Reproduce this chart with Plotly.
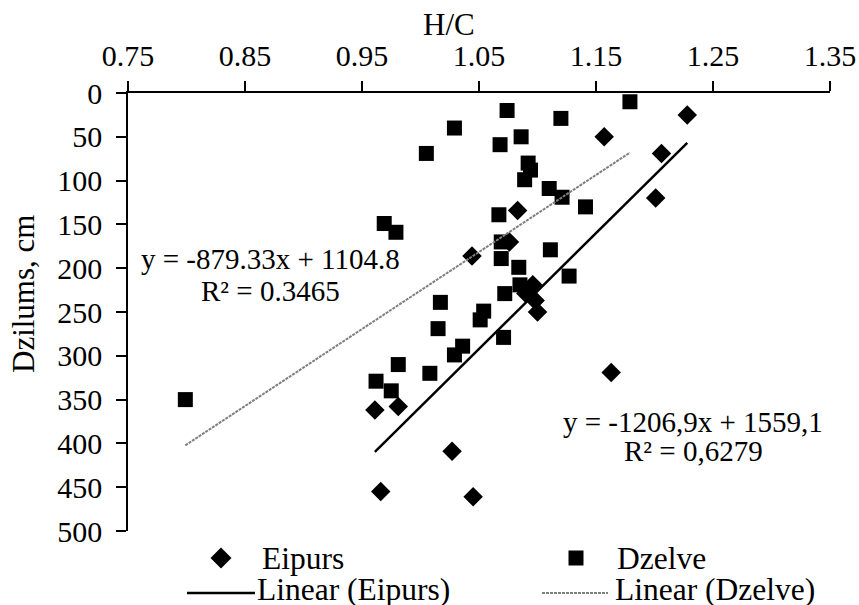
import plotly.graph_objects as go
import numpy as np

# ---- data ----
eipurs_x = [1.228, 1.157, 1.206, 1.201, 1.083, 1.076, 1.044, 1.096, 1.090, 1.098, 1.100,
            0.961, 0.981, 1.027, 0.966, 1.045, 1.163]
eipurs_y = [25, 50, 69, 120, 134, 170, 186, 219, 229, 237, 250,
            362, 358, 409, 455, 461, 319]

dzelve_x = [1.179, 1.074, 1.120, 1.029, 1.086, 1.068, 1.005, 1.092, 1.094, 1.089, 1.110,
            1.121, 1.141, 1.067, 0.969, 0.979, 1.069, 1.111, 1.069, 1.084, 1.127, 1.085,
            1.072, 1.017, 1.054, 1.051, 1.015, 1.071, 1.036, 1.029, 0.981, 1.008, 0.962,
            0.975, 0.799]
dzelve_y = [10, 20, 29, 40, 50, 59, 69, 80, 88, 99, 109,
            119, 130, 139, 149, 159, 170, 179, 189, 199, 209, 219,
            229, 239, 249, 259, 269, 279, 289, 299, 310, 320, 329,
            340, 350]

# trend lines as drawn (slope, intercept)
eipurs_fit = [-1321.6, 1679.8]
dzelve_fit = [-879.33, 1104.8]

eipurs_label = ["y = -1206,9x + 1559,1", "R² = 0,6279"]
dzelve_label = ["y = -879.33x + 1104.8", "R² = 0.3465"]
legend_names = ["Eipurs", "Dzelve", "Linear (Eipurs)", "Linear (Dzelve)"]

x_ticks = [0.75, 0.85, 0.95, 1.05, 1.15, 1.25, 1.35]
y_ticks = [0, 50, 100, 150, 200, 250, 300, 350, 400, 450, 500]

FONT = "Liberation Serif"
FS_TICK, FS_TITLE, FS_LEG, FS_EQ = 30, 31, 31.5, 29
W, H = 859, 605
ML, MR, MT, MB = 128, 29, 93, 74
PW, PH = W - ML - MR, H - MT - MB

def px2x(px):  # figure pixel -> paper x
    return (px - ML) / PW

def px2y(py):  # figure pixel -> paper y
    return (H - MB - py) / PH

def fit_line(xs, coef):
    xr = np.array([min(xs), max(xs)])
    return xr, coef[0] * xr + coef[1]

fig = go.Figure()
fig.add_trace(go.Scatter(x=eipurs_x, y=eipurs_y, mode="markers", name=legend_names[0],
                         marker=dict(symbol="diamond", size=15, color="black")))
fig.add_trace(go.Scatter(x=dzelve_x, y=dzelve_y, mode="markers", name=legend_names[1],
                         marker=dict(symbol="square", size=15, color="black")))
ex, ey = fit_line(eipurs_x, eipurs_fit)
fig.add_trace(go.Scatter(x=ex, y=ey, mode="lines", name=legend_names[2],
                         line=dict(color="black", width=2.5)))
dx, dy = fit_line(dzelve_x, dzelve_fit)
fig.add_trace(go.Scatter(x=dx, y=dy, mode="lines", name=legend_names[3],
                         line=dict(color="#7f7f7f", width=2, dash="3px,1px")))

# equation labels
ann = dict(showarrow=False, xref="x", yref="y", borderpad=0,
           font=dict(family=FONT, size=FS_EQ, color="black"))
fig.add_annotation(x=0.872, y=190, text=dzelve_label[0], **ann)
fig.add_annotation(x=0.872, y=226.5, text=dzelve_label[1], **ann)
fig.add_annotation(x=1.233, y=375, text=eipurs_label[0], **ann)
fig.add_annotation(x=1.233, y=409, text=eipurs_label[1], **ann)

# axis titles
def pann(size):
    return dict(showarrow=False, xref="paper", yref="paper", borderpad=0,
                font=dict(family=FONT, size=size, color="black"))
fig.add_annotation(x=px2x(449), y=px2y(25), text="H/C", xanchor="center", yanchor="middle",
                   **pann(FS_TITLE))
fig.add_annotation(x=px2x(23), y=px2y(294), text="Dzilums, cm", textangle=-90,
                   xanchor="center", yanchor="middle", **pann(FS_TITLE))

# manual legend (below the plot)
row1, row2, line_y = 558, 589, 593
def diamond_path(cx, cy, r):
    pts = [(cx, cy - r), (cx + r, cy), (cx, cy + r), (cx - r, cy)]
    return "M" + " L".join(f"{px2x(a):.5f},{px2y(b):.5f}" for a, b in pts) + " Z"
def square_path(cx, cy, r):
    pts = [(cx - r, cy - r), (cx + r, cy - r), (cx + r, cy + r), (cx - r, cy + r)]
    return "M" + " L".join(f"{px2x(a):.5f},{px2y(b):.5f}" for a, b in pts) + " Z"

fig.add_shape(type="path", path=diamond_path(221, row1, 10.5), xref="paper", yref="paper",
              fillcolor="black", line=dict(width=0))
fig.add_shape(type="path", path=square_path(576, row1, 7.5), xref="paper", yref="paper",
              fillcolor="black", line=dict(width=0))
fig.add_shape(type="line", x0=px2x(187), x1=px2x(255), y0=px2y(line_y), y1=px2y(line_y),
              xref="paper", yref="paper", line=dict(color="black", width=2.5))
fig.add_shape(type="line", x0=px2x(542), x1=px2x(608), y0=px2y(line_y), y1=px2y(line_y),
              xref="paper", yref="paper", line=dict(color="#7f7f7f", width=2, dash="3px,1px"))
for name, lx, ly in [(legend_names[0], 261, row1), (legend_names[1], 616, row1),
                     (legend_names[2], 256, row2), (legend_names[3], 614, row2)]:
    fig.add_annotation(x=px2x(lx), y=px2y(ly), text=name, xanchor="left", yanchor="middle",
                       **pann(FS_LEG))

fig.update_layout(
    width=W, height=H,
    margin=dict(l=ML, r=MR, t=MT, b=MB, autoexpand=False),
    paper_bgcolor="white", plot_bgcolor="white",
    font=dict(family=FONT, size=FS_TICK, color="black"),
    showlegend=False,
    xaxis=dict(side="top", range=[0.75, 1.35], tickvals=x_ticks,
               ticktext=[f"{v:.2f}" for v in x_ticks],
               ticks="outside", ticklen=10, tickwidth=1.5, tickcolor="black",
               ticklabelstandoff=3, tickfont=dict(size=FS_TICK),
               showline=True, linecolor="black", linewidth=1.5, showgrid=False,
               zeroline=False),
    yaxis=dict(range=[500, 0], tickvals=y_ticks, ticks="outside", ticklen=10,
               tickwidth=1.5, tickcolor="black", showline=True, linecolor="black",
               ticklabelstandoff=8, tickfont=dict(size=FS_TICK),
               linewidth=1.5, showgrid=False, zeroline=False),
)

fig.write_html("out.html", config={"displayModeBar": False},
               post_script="document.body.style.margin='0';document.body.style.overflow='hidden';")
